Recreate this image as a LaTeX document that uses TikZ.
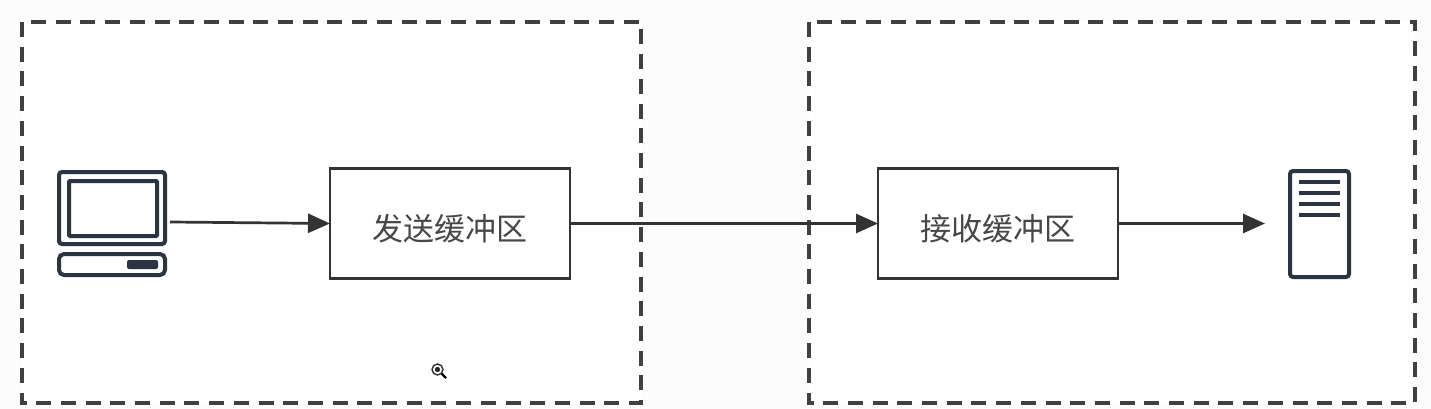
\documentclass[tikz,border=0pt]{standalone}
\usepackage{fontspec}
\setmainfont{Noto Sans CJK SC}
\usetikzlibrary{arrows.meta}
\definecolor{ink}{HTML}{333333}
\definecolor{icon}{HTML}{2B3442}
\tikzset{
  zone/.style={draw=black!75,line width=3.2pt,dash pattern=on 15pt off 9.7pt,fill=white},
  bufbox/.style={draw=ink,line width=2.9pt,fill=white,inner sep=0pt,outer sep=0pt},
  flow/.style={draw=ink,line width=2.7pt,-{Triangle[length=22pt,width=19pt,fill=ink]}},
  iconline/.style={draw=icon,line width=4pt,rounded corners=3pt},
  iconbar/.style={draw=icon,line width=4.4pt},
  lbl/.style={font=\fontsize{31}{31}\selectfont,text=ink!90,inner sep=0pt}
}
\begin{document}
\begin{tikzpicture}[x=1pt,y=-1pt]
\useasboundingbox (0,0) rectangle (1431,409);
\fill[white!99!black] (0,0) rectangle (1431,409);
% dashed zones
\draw[zone] (22,22) rectangle (641,403);
\draw[zone] (809,22) rectangle (1415,403);
% buffers
\node[bufbox,minimum width=240pt,minimum height=110pt] (send) at (450,223.5) {};
\node[bufbox,minimum width=240pt,minimum height=110pt] (recv) at (998,223.5) {};
\node[lbl] (sendt) at (450,229) {发送缓冲区};
\node[lbl] (recvt) at (998,229) {接收缓冲区};
% computer icon
\draw[iconline] (59,172) rectangle (165,244);
\draw[iconline,rounded corners=1pt] (69,181) rectangle (157,236);
\draw[iconline,rounded corners=5pt] (59,254) rectangle (165,275);
\fill[icon,rounded corners=2pt] (127,260) rectangle (158,269);
\coordinate (pc) at (170,222);
% server icon
\draw[iconline] (1290,171) rectangle (1349,277);
\draw[iconbar] (1299,182) -- (1340,182);
\draw[iconbar] (1299,193) -- (1340,193);
\draw[iconbar] (1299,204) -- (1340,204);
\draw[iconbar] (1299,215) -- (1340,215);
\coordinate (srv) at (1265,223.5);
% connectors
\draw[flow] (pc) -- (send.west);
\draw[flow] (send.east) -- (recv.west);
\draw[flow] (recv.east) -- (srv);
% cursor
\draw[black!80,line width=1.4pt,fill=white] (437.5,369.5) circle (5.5pt);
\fill[black!85] (437.5,369.5) circle (2.6pt);
\draw[black,line width=2.4pt] (441.5,373.5) -- (446,378);
\end{tikzpicture}
\end{document}
